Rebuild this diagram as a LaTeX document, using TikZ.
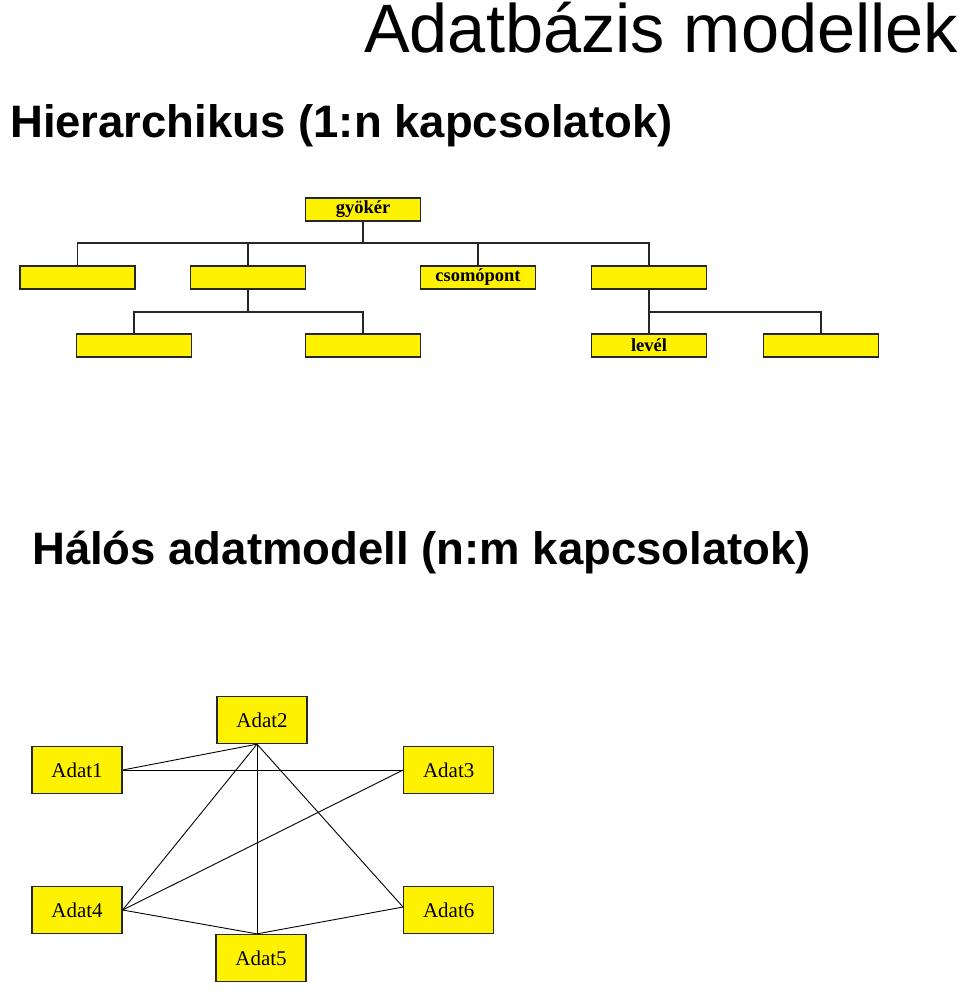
\documentclass[tikz,border=0pt]{standalone}
\usepackage{fontspec}
\setmainfont{Liberation Serif}
\newfontfamily\headfont{Liberation Sans}
\begin{document}
\begin{tikzpicture}[x=1pt,y=-1pt,
  hbox/.style={draw=black!85,line width=1.5pt,fill=yellow,minimum width=115pt,minimum height=23pt,inner sep=0pt,font=\bfseries\fontsize{18.5}{20}\selectfont},
  nbox/.style={draw=black!85,line width=1.3pt,fill=yellow,minimum width=90pt,minimum height=47pt,inner sep=0pt,font=\fontsize{21}{24}\selectfont},
  tline/.style={draw=black!85,line width=1.5pt},
  nline/.style={draw=black,line width=0.9pt}]
\useasboundingbox (0,0) rectangle (960,997);
% headings
\node[anchor=base west,inner sep=0pt,font=\headfont\fontsize{68.5}{80}\selectfont] (title) at (364,52.5) {Adatbázis modellek};
\node[anchor=base west,inner sep=0pt,font=\headfont\bfseries\fontsize{45.5}{54}\selectfont] (h1) at (10,137) {Hierarchikus (1:n kapcsolatok)};
\node[anchor=base west,inner sep=0pt,font=\headfont\bfseries\fontsize{45.5}{54}\selectfont] (h2) at (32,564) {Hálós adatmodell (n:m kapcsolatok)};
% hierarchy
\node[hbox] (root) at (363,209.5) {gyökér};
\node[hbox] (A) at (77.5,277.5) {};
\node[hbox] (B) at (248,277.5) {};
\node[hbox] (C) at (478,277.5) {csomópont};
\node[hbox] (D) at (649,277.5) {};
\node[hbox] (B1) at (134,345.5) {};
\node[hbox] (B2) at (363,345.5) {};
\node[hbox] (D1) at (649,345.5) {levél};
\node[hbox] (D2) at (821,345.5) {};
\coordinate (bus1) at (363,243);
\coordinate (bus2) at (363,312);
\draw[tline] (root.south) -- (bus1);
\draw[tline] (A.north) -- (A.north|-bus1) -- (D.north|-bus1) -- (D.north);
\draw[tline] (B.north) -- (B.north|-bus1);
\draw[tline] (C.north) -- (C.north|-bus1);
\draw[tline] (B.south) -- (B.south|-bus2);
\draw[tline] (B1.north) -- (B1.north|-bus2) -- (B2.north|-bus2) -- (B2.north);
\draw[tline] (D.south) -- (D1.north);
\draw[tline] (D.south|-bus2) -- (D2.north|-bus2) -- (D2.north);
% network
\node[nbox] (a1) at (77,770) {Adat1};
\node[nbox] (a2) at (262,720) {Adat2};
\node[nbox] (a3) at (448.7,770) {Adat3};
\node[nbox] (a4) at (77,910) {Adat4};
\node[nbox] (a5) at (261,958) {Adat5};
\node[nbox] (a6) at (448.7,910) {Adat6};
\coordinate (a2b) at ([xshift=-5pt]a2.south);
\coordinate (a5t) at ([xshift=-4pt]a5.north);
\coordinate (a6w) at ([yshift=3pt]a6.west);
\draw[nline] (a2b) -- (a1.east);
\draw[nline] (a1.east) -- (a3.west);
\draw[nline] (a2b) -- (a4.east);
\draw[nline] (a2b) -- (a5t);
\draw[nline] (a2b) -- (a6w);
\draw[nline] (a3.west) -- (a4.east);
\draw[nline] (a4.east) -- (a5t);
\draw[nline] (a5t) -- (a6w);
\end{tikzpicture}
\end{document}
